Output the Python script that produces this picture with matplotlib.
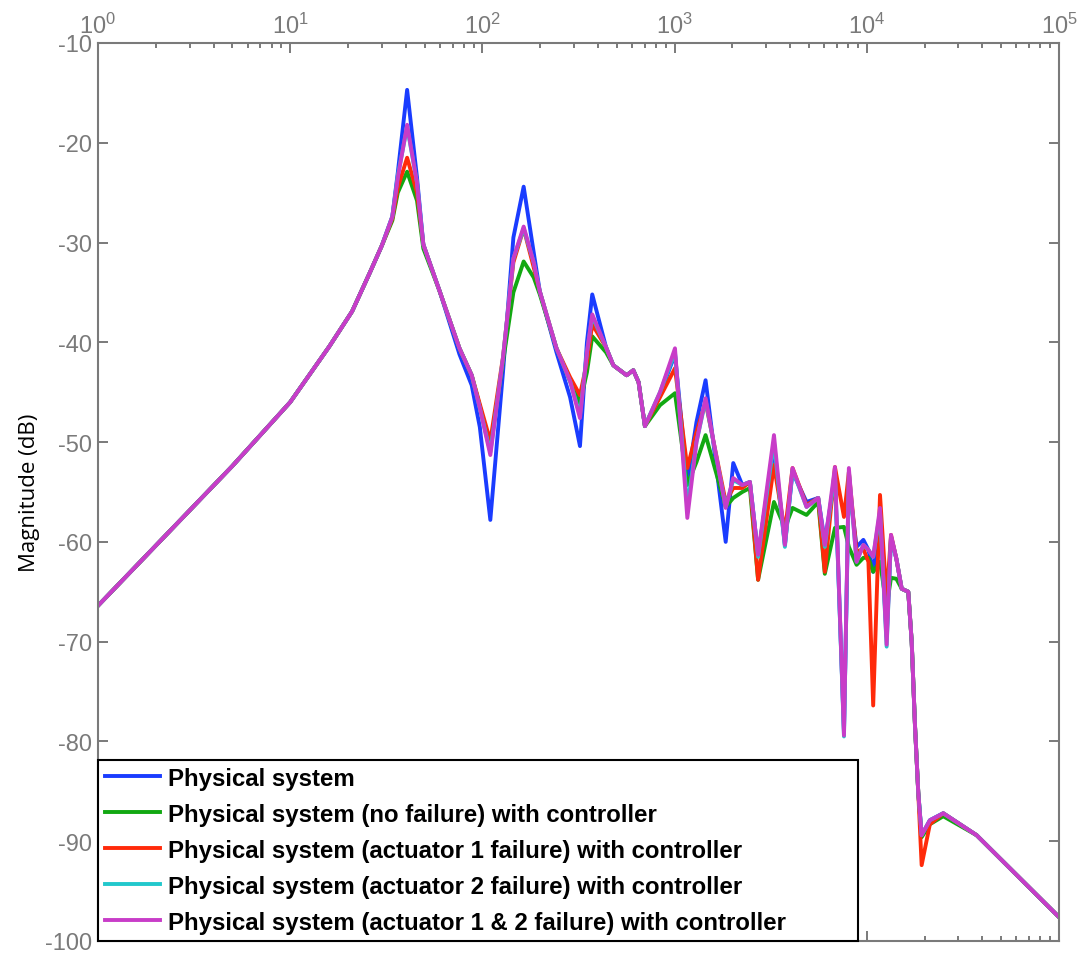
import matplotlib
matplotlib.use("Agg")
import matplotlib.pyplot as plt
from matplotlib.ticker import LogLocator, NullFormatter, FixedLocator

# frequency points (Hz) shared by all responses
freq = [1, 5, 10, 16, 21, 26, 30, 34, 36.3, 40.6,
        45.7, 49.3, 60, 76, 88, 97, 110, 128, 145, 164,
        185, 199, 243, 286, 322, 350, 373, 440, 480, 563,
        610, 650, 701, 840, 1005, 1165, 1300, 1450, 1845, 2020,
        2250, 2466, 2720, 3290, 3750, 4110, 4860, 5590, 6050, 6830,
        7610, 8070, 8850, 9600, 10200, 10800, 11720, 12690, 13370, 14260,
        15200, 16440, 17130, 17820, 18530, 19300, 21300, 25000, 37300, 100000]

# magnitude (dB) of each configuration
mag_plant = [-66.4, -52.4, -46.0, -40.4, -36.9, -33.0, -30.3, -27.4, -23.0, -14.7,
             -23.5, -30.2, -34.9, -41.2, -44.3, -48.5, -57.8, -43.0, -29.5, -24.4,
             -31.0, -34.9, -41.0, -45.5, -50.4, -40.0, -35.2, -40.5, -42.3, -43.3,
             -42.8, -44.0, -48.4, -45.2, -41.2, -54.0, -48.0, -43.8, -60.0, -52.1,
             -54.3, -54.0, -61.3, -50.5, -60.3, -53.0, -56.0, -55.6, -60.0, -53.5,
             -79.0, -54.0, -60.5, -59.8, -60.8, -63.0, -57.5, -69.5, -59.5, -61.7,
             -64.7, -65.0, -70.0, -78.4, -85.1, -89.4, -87.9, -87.2, -89.4, -97.6]

mag_nofail = [-66.4, -52.4, -46.0, -40.4, -36.9, -33.0, -30.3, -27.8, -25.0, -22.9,
              -25.8, -30.6, -34.9, -40.6, -43.3, -46.4, -50.5, -42.0, -35.0, -31.9,
              -33.5, -35.2, -40.6, -43.9, -46.1, -43.0, -39.4, -41.0, -42.3, -43.3,
              -42.8, -44.0, -48.4, -46.3, -45.1, -54.3, -52.0, -49.3, -56.5, -55.6,
              -55.0, -54.6, -63.8, -56.0, -58.6, -56.6, -57.3, -56.0, -63.2, -58.6,
              -58.5, -60.5, -62.3, -61.6, -61.6, -63.0, -62.0, -66.5, -63.6, -63.7,
              -64.7, -65.0, -70.0, -78.4, -85.1, -89.6, -88.3, -87.5, -89.4, -97.6]

mag_act1 = [-66.4, -52.4, -46.0, -40.4, -36.9, -33.0, -30.3, -27.6, -24.5, -21.5,
            -25.0, -30.2, -34.9, -40.6, -43.3, -46.2, -49.9, -41.5, -32.0, -28.6,
            -32.5, -34.9, -40.6, -43.5, -45.3, -42.0, -38.2, -40.5, -42.3, -43.3,
            -42.8, -44.0, -48.4, -45.5, -42.6, -52.6, -49.0, -46.0, -56.0, -54.6,
            -54.6, -54.0, -63.8, -52.3, -59.0, -52.6, -56.3, -55.6, -63.0, -52.5,
            -57.5, -53.0, -61.0, -60.7, -62.0, -76.4, -55.3, -65.7, -59.3, -61.7,
            -64.7, -65.0, -70.0, -78.4, -85.1, -92.4, -88.3, -87.2, -89.4, -97.6]

mag_act2 = [-66.4, -52.4, -46.0, -40.4, -36.9, -33.0, -30.3, -27.4, -23.3, -18.4,
            -24.0, -30.2, -34.9, -40.6, -43.3, -46.6, -51.0, -41.6, -31.6, -28.6,
            -32.0, -34.9, -40.6, -43.9, -47.3, -41.0, -37.4, -40.5, -42.3, -43.3,
            -42.8, -44.0, -48.4, -45.0, -41.0, -56.5, -50.0, -45.8, -56.5, -53.8,
            -54.3, -54.0, -61.5, -50.0, -60.5, -52.8, -56.5, -55.6, -60.5, -53.0,
            -79.5, -53.0, -62.0, -60.3, -60.8, -61.5, -57.0, -70.5, -59.5, -61.7,
            -64.7, -65.0, -70.0, -78.4, -85.1, -89.4, -87.9, -87.2, -89.4, -97.6]

mag_act12 = [-66.4, -52.4, -46.0, -40.4, -36.9, -33.0, -30.3, -27.4, -23.5, -18.2,
             -24.0, -30.2, -34.9, -40.6, -43.3, -46.6, -51.3, -41.6, -31.6, -28.4,
             -32.0, -34.9, -40.6, -43.9, -47.6, -41.0, -37.2, -40.5, -42.3, -43.3,
             -42.8, -44.0, -48.4, -45.0, -40.6, -57.6, -50.0, -45.6, -56.6, -53.6,
             -54.3, -54.0, -61.3, -49.3, -60.3, -52.6, -56.5, -55.6, -60.3, -52.5,
             -79.4, -52.6, -62.0, -60.3, -60.8, -61.5, -56.6, -70.3, -59.3, -61.7,
             -64.7, -65.0, -70.0, -78.4, -85.1, -89.4, -87.9, -87.2, -89.4, -97.6]

labels = ["Physical system",
          "Physical system (no failure) with controller",
          "Physical system (actuator 1 failure) with controller",
          "Physical system (actuator 2 failure) with controller",
          "Physical system (actuator 1 & 2 failure) with controller"]
colors = ["#1a3cff", "#12a812", "#ff2a0a", "#22c8cc", "#c83cc8"]
series = [mag_plant, mag_nofail, mag_act1, mag_act2, mag_act12]

yticks = [-100, -90, -80, -70, -60, -50, -40, -30, -20, -10]
xticks = [1, 10, 100, 1000, 10000, 100000]

grey = "#7a7a7a"

fig = plt.figure(figsize=(10.85, 9.54), dpi=100)
ax = fig.add_axes([0.0903, 0.0126, 0.8857, 0.9413])

for y, c, lab in zip(series, colors, labels):
    ax.plot(freq, y, color=c, lw=2.8, label=lab)

ax.set_xscale("log")
ax.set_xlim(1, 1e5)
ax.set_ylim(-100, -10)

ax.xaxis.set_major_locator(FixedLocator(xticks))
ax.xaxis.set_minor_locator(LogLocator(base=10, subs=range(2, 10), numticks=20))
ax.xaxis.set_minor_formatter(NullFormatter())
ax.set_xticklabels([r"$\mathdefault{10^{%d}}$" % i for i in range(6)])
ax.set_yticks(yticks)
ax.set_yticklabels([str(v) for v in yticks])

ax.tick_params(axis="both", which="both", direction="in", color=grey,
               labelcolor=grey, top=True, bottom=True, left=True, right=True,
               labeltop=True, labelbottom=False, width=1.4)
ax.tick_params(which="major", length=7, labelsize=17, pad=4)
ax.tick_params(which="minor", length=3.5)
for lab in ax.get_xticklabels() + ax.get_yticklabels():
    lab.set_family("Liberation Sans")
for sp in ax.spines.values():
    sp.set_color(grey)
    sp.set_linewidth(1.5)

ax.set_ylabel("Magnitude (dB)", fontsize=16, family="Open Sans", labelpad=4)

leg = ax.legend(loc="lower left", bbox_to_anchor=(0, 0, 0.791, 0.2), mode="expand",
                borderaxespad=0, fancybox=False, framealpha=1, handlelength=2.3,
                handletextpad=0.3, labelspacing=0.54, borderpad=0.3,
                prop={"family": "Liberation Sans", "weight": "bold", "size": 17.3})
leg.get_frame().set_edgecolor("black")
leg.get_frame().set_linewidth(1.5)

fig.savefig("out.png", dpi=100)
